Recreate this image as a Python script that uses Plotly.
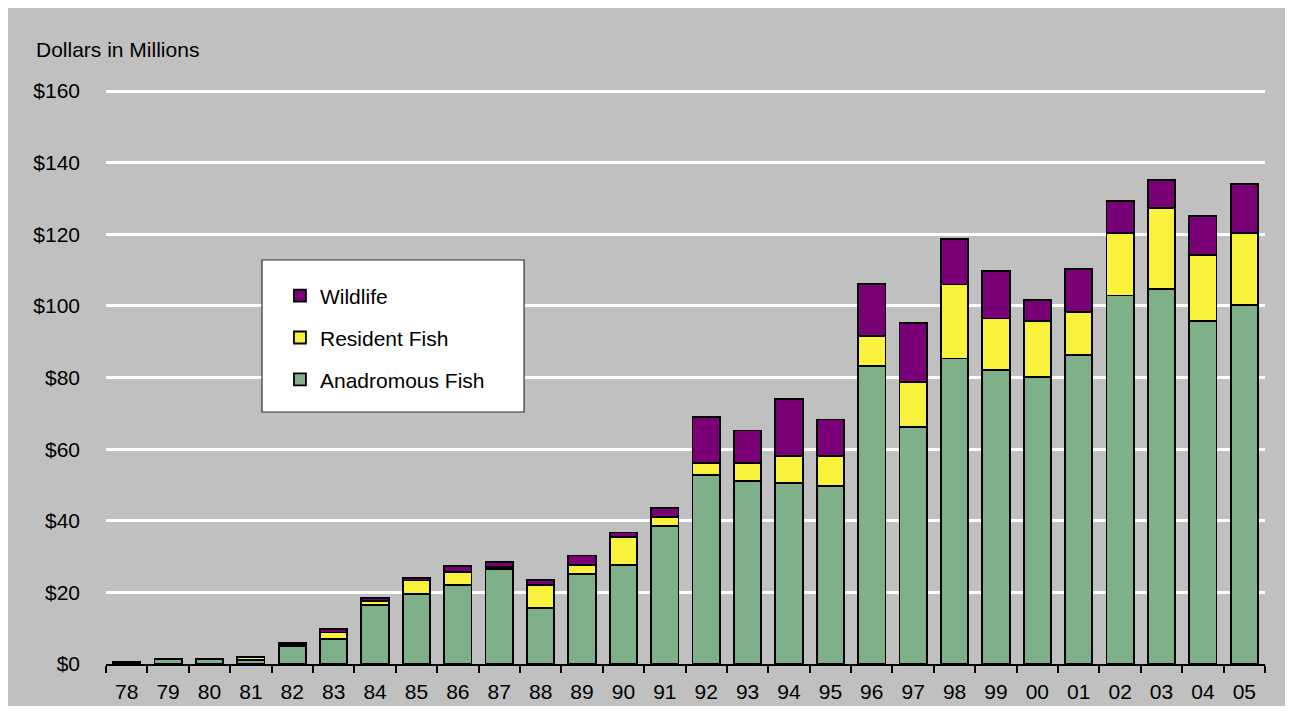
import plotly.graph_objects as go

years = ["78", "79", "80", "81", "82", "83", "84", "85", "86", "87", "88", "89", "90", "91",
         "92", "93", "94", "95", "96", "97", "98", "99", "00", "01", "02", "03", "04", "05"]
anadromous = [0.6, 1.4, 1.4, 1.1, 5.0, 7.0, 16.4, 19.6, 22.1, 26.5, 15.6, 25.2, 27.7, 38.5,
              52.8, 51.2, 50.5, 49.8, 83.3, 66.2, 85.3, 82.1, 80.2, 86.4, 102.9, 104.8, 95.9, 100.3]
resident = [0.1, 0.0, 0.0, 0.7, 0.6, 1.8, 1.3, 3.7, 3.7, 0.7, 6.5, 2.5, 7.7, 2.5,
            3.4, 5.0, 7.7, 8.4, 8.2, 12.6, 20.7, 14.4, 15.7, 11.9, 17.5, 22.6, 18.3, 20.1]
wildlife = [0.0, 0.0, 0.0, 0.2, 0.3, 0.9, 0.8, 0.8, 1.6, 1.3, 1.4, 2.6, 1.3, 2.6,
            12.8, 9.0, 15.8, 10.1, 14.6, 16.5, 12.7, 13.3, 5.7, 12.1, 9.0, 7.8, 10.9, 13.6]
y_tick_values = [0, 20, 40, 60, 80, 100, 120, 140, 160]
y_tick_labels = ["$0", "$20", "$40", "$60", "$80", "$100", "$120", "$140", "$160"]

GREEN = "#7FB08A"
YELLOW = "#F8F23C"
PURPLE = "#7A0078"
GRAY = "#C0C0C0"
FONT = "Liberation Sans, Arial, sans-serif"
FS = 21

fig = go.Figure()
series = [("Anadromous Fish", anadromous, GREEN, "a", 3),
          ("Resident Fish", resident, YELLOW, "b", 2),
          ("Wildlife", wildlife, PURPLE, "c", 1)]
for name, vals, col, grp, rank in series:
    fig.add_trace(go.Bar(
        x=years, y=vals, name=name, legendgroup=grp, legendrank=rank,
        marker=dict(color=col, line=dict(color="black", width=1.8)),
    ))

fig.update_layout(
    barmode="stack",
    bargap=0.34,
    width=1277, height=698,
    margin=dict(l=98, r=20, t=82, b=42),
    paper_bgcolor=GRAY,
    plot_bgcolor=GRAY,
    font=dict(family=FONT, size=FS, color="black"),
    showlegend=True,
    legend=dict(
        x=0.1501, y=0.6767, xanchor="left", yanchor="top",
        bgcolor="rgba(0,0,0,0)", borderwidth=0,
        traceorder="grouped", tracegroupgap=11.5,
        font=dict(family=FONT, size=FS, color="black"),
    ),
    xaxis=dict(
        type="category", automargin=False,
        showgrid=False,
        showline=True, linecolor="black", linewidth=2,
        ticks="outside", tickson="boundaries", ticklen=7, tickwidth=2, tickcolor="black",
        ticklabelstandoff=8,
        tickfont=dict(size=FS),
    ),
    yaxis=dict(
        range=[0, 160.3], automargin=False,
        tickmode="array", tickvals=y_tick_values, ticktext=y_tick_labels,
        showgrid=True, gridcolor="white", gridwidth=3,
        zeroline=False, showline=False, ticks="",
        ticklabelstandoff=25,
        tickfont=dict(size=FS),
    ),
    shapes=[dict(
        type="rect", xref="paper", yref="paper",
        x0=0.1346, x1=0.3607, y0=0.4390, y1=0.7038,
        fillcolor="white", line=dict(color="#333333", width=1.2), layer="above",
    )],
    annotations=[dict(
        text="Dollars in Millions", xref="paper", yref="paper",
        x=-0.0621, y=1.0697, xanchor="left", yanchor="middle",
        showarrow=False, font=dict(family=FONT, size=FS, color="black"),
    )],
)

fig.write_html("out.html")
